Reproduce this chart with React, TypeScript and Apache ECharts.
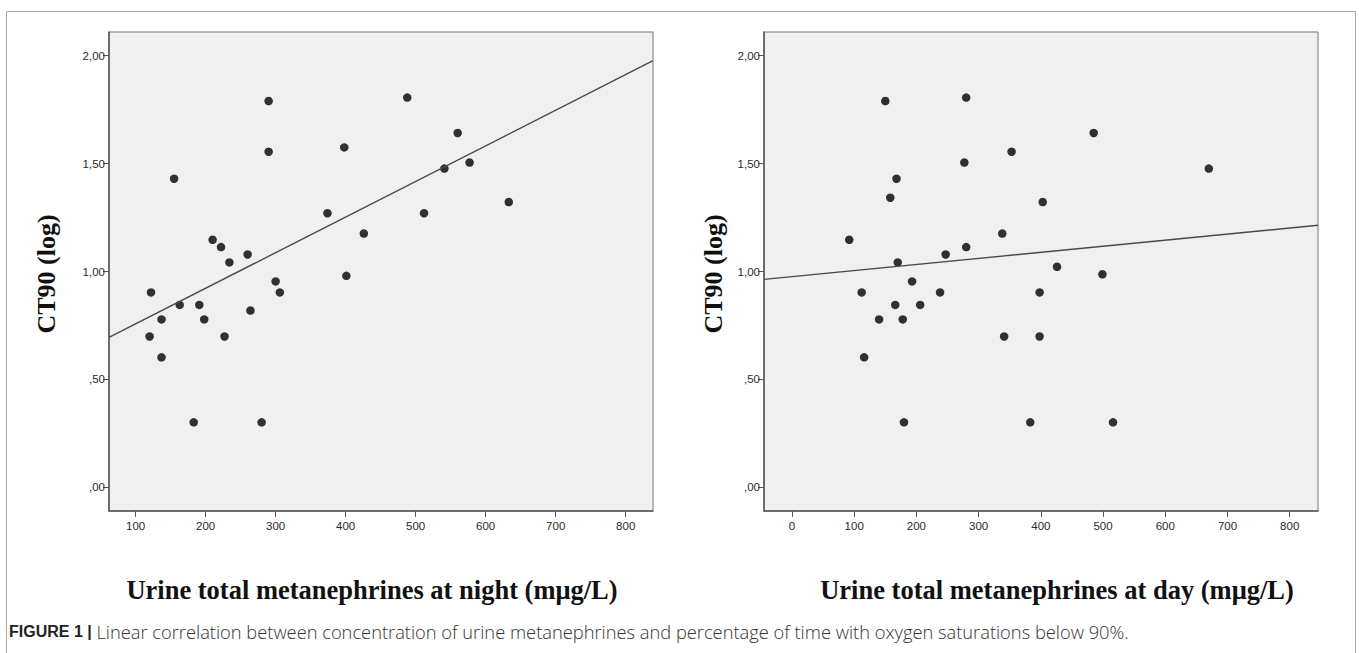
import React, { useEffect, useRef } from "react";
import * as echarts from "echarts";

// Left panel: urine total metanephrines at night vs CT90 (log)
const nightX = [290, 290, 155, 374, 398, 210, 222, 234, 260, 401, 300, 488, 560, 541, 577, 512, 633, 426, 122, 120, 137, 137, 163, 191, 198, 227, 264, 306, 183, 280];
const nightY = [1.79, 1.555, 1.43, 1.27, 1.575, 1.147, 1.113, 1.042, 1.079, 0.98, 0.954, 1.806, 1.642, 1.477, 1.505, 1.27, 1.322, 1.176, 0.903, 0.699, 0.778, 0.602, 0.845, 0.845, 0.778, 0.699, 0.819, 0.903, 0.301, 0.301];

// Right panel: urine total metanephrines at day vs CT90 (log)
const dayX = [150, 280, 277, 168, 158, 92, 170, 247, 280, 338, 485, 353, 670, 403, 426, 499, 193, 112, 238, 166, 206, 140, 178, 116, 180, 341, 398, 398, 383, 516];
const dayY = [1.79, 1.806, 1.505, 1.43, 1.342, 1.147, 1.042, 1.079, 1.113, 1.176, 1.642, 1.555, 1.477, 1.322, 1.022, 0.987, 0.954, 0.903, 0.903, 0.845, 0.845, 0.778, 0.778, 0.602, 0.301, 0.699, 0.903, 0.699, 0.301, 0.301];

// Fit lines: [intercept, slope]
const nightFit = [0.592, 0.001651];
const dayFit = [0.976, 0.000282];

const nightTicks = [100, 200, 300, 400, 500, 600, 700, 800];
const dayTicks = [0, 100, 200, 300, 400, 500, 600, 700, 800];
const yTicks = [0, 0.5, 1, 1.5, 2];

const nightRange = [62, 839];
const dayRange = [-45, 845.5];
const yRange = [-0.11, 2.11];

const yLabel = "CT90 (log)";
const nightLabel = "Urine total metanephrines at night (mμg/L)";
const dayLabel = "Urine total metanephrines at day (mμg/L)";
const captionBold = "FIGURE 1 |";
const captionText = " Linear correlation between concentration of urine metanephrines and percentage of time with oxygen saturations below 90%.";

const tickFont = "'Liberation Sans Narrow', 'Arial Narrow', 'Liberation Sans', Arial, sans-serif";
const titleFont = "'Liberation Serif', 'Times New Roman', serif";

const fmtY = (v: number) => v.toFixed(2).replace(".", ",").replace(/^0/, "");

function xAxisCfg(gridIndex: number, range: number[], ticks: number[]) {
  return {
    type: "value",
    gridIndex,
    min: range[0],
    max: range[1],
    axisLine: { show: true, onZero: false, lineStyle: { color: "#555", width: 1.5 } },
    axisTick: { show: true, customValues: ticks, length: 6, lineStyle: { color: "#555", width: 1 } },
    axisLabel: { customValues: ticks, color: "#2a2a2a", fontSize: 11.5, fontFamily: tickFont, margin: 9 },
    splitLine: { show: false },
  };
}

function yAxisCfg(gridIndex: number) {
  return {
    type: "value",
    gridIndex,
    min: yRange[0],
    max: yRange[1],
    axisLine: { show: true, onZero: false, lineStyle: { color: "#555", width: 1.5 } },
    axisTick: { show: true, customValues: yTicks, length: 6, lineStyle: { color: "#555", width: 1 } },
    axisLabel: { customValues: yTicks, color: "#2a2a2a", fontSize: 11.5, fontFamily: tickFont, margin: 4, formatter: fmtY },
    splitLine: { show: false },
  };
}

function fitLine(fit: number[], range: number[]) {
  return range.map((x) => [x, fit[0] + fit[1] * x]);
}

export default function App() {
  const ref = useRef<HTMLDivElement>(null);
  useEffect(() => {
    if (!ref.current) return;
    const chart = echarts.init(ref.current, undefined, { renderer: "svg" });
    const option = {
      animation: false,
      backgroundColor: "#ffffff",
      grid: [
        { left: 109, top: 32, width: 544, height: 479, show: true, backgroundColor: "#f0f0f0", borderColor: "#777", borderWidth: 1 },
        { left: 764, top: 32, width: 554, height: 479, show: true, backgroundColor: "#f0f0f0", borderColor: "#777", borderWidth: 1 },
      ],
      xAxis: [xAxisCfg(0, nightRange, nightTicks), xAxisCfg(1, dayRange, dayTicks)],
      yAxis: [yAxisCfg(0), yAxisCfg(1)],
      series: [
        {
          type: "line",
          xAxisIndex: 0,
          yAxisIndex: 0,
          data: fitLine(nightFit, nightRange),
          symbol: "none",
          lineStyle: { color: "#4a4a4a", width: 1.4 },
          silent: true,
        },
        {
          type: "scatter",
          xAxisIndex: 0,
          yAxisIndex: 0,
          data: nightX.map((x, i) => [x, nightY[i]]),
          symbolSize: 8.5,
          itemStyle: { color: "#000" },
        },
        {
          type: "line",
          xAxisIndex: 1,
          yAxisIndex: 1,
          data: fitLine(dayFit, dayRange),
          symbol: "none",
          lineStyle: { color: "#4a4a4a", width: 1.4 },
          silent: true,
        },
        {
          type: "scatter",
          xAxisIndex: 1,
          yAxisIndex: 1,
          data: dayX.map((x, i) => [x, dayY[i]]),
          symbolSize: 8.5,
          itemStyle: { color: "#000" },
        },
      ],
      graphic: [
        { type: "rect", shape: { x: 6.5, y: 11.5, width: 1349, height: 700 }, style: { fill: "none", stroke: "#aaa", lineWidth: 1 }, silent: true },
        { type: "text", x: 46, y: 274, rotation: Math.PI / 2, style: { text: yLabel, font: `bold 26px ${titleFont}`, fill: "#111", align: "center", verticalAlign: "middle" } },
        { type: "text", x: 713, y: 274, rotation: Math.PI / 2, style: { text: yLabel, font: `bold 26px ${titleFont}`, fill: "#111", align: "center", verticalAlign: "middle" } },
        { type: "text", x: 372, y: 590, style: { text: nightLabel, font: `bold 26.5px ${titleFont}`, fill: "#111", align: "center", verticalAlign: "middle" } },
        { type: "text", x: 1057, y: 590, style: { text: dayLabel, font: `bold 26.5px ${titleFont}`, fill: "#111", align: "center", verticalAlign: "middle" } },
        {
          type: "text",
          x: 9,
          y: 631,
          style: {
            text: `{b|${captionBold}}{r|${captionText}}`,
            verticalAlign: "middle",
            rich: {
              b: { font: `bold 16px 'Liberation Sans Narrow', 'Liberation Sans', Arial, sans-serif`, fill: "#222" },
              r: { font: `300 18.3px 'Open Sans', 'Liberation Sans', Arial, sans-serif`, fill: "#333" },
            },
          },
        },
      ],
    };
    chart.setOption(option as any);
    return () => chart.dispose();
  }, []);
  return <div ref={ref} style={{ position: "absolute", left: 0, top: 0, width: 1359, height: 653 }} />;
}
